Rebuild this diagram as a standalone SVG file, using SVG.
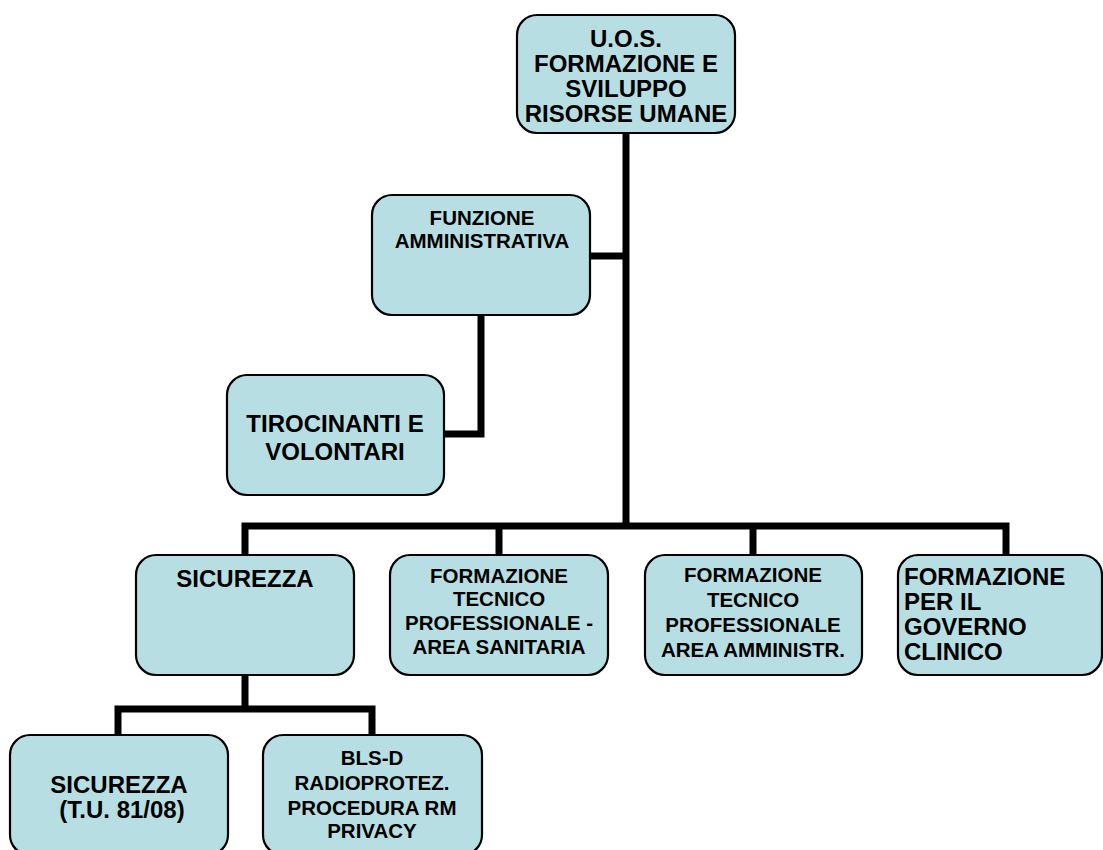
<svg xmlns="http://www.w3.org/2000/svg" width="1103" height="850" viewBox="0 0 1103 850">
<style>
.box{fill:#B7DEE2;stroke:#000;stroke-width:2.2}
.t{font-family:"Liberation Sans",Arial,sans-serif;font-weight:bold;fill:#000}
.big{font-size:24px}
.sm{font-size:20.5px}
.c{text-anchor:middle}
.conn{fill:none;stroke:#000;stroke-width:7;stroke-linejoin:miter;stroke-linecap:butt}
</style>
<rect width="1103" height="850" fill="#fff"/>
<g id="connectors">
<path class="conn" d="M626,133 V526"/>
<path class="conn" d="M590,256 H626"/>
<path class="conn" d="M481,315 V434 H444"/>
<path class="conn" d="M245,555 V526 H1006 V555"/>
<path class="conn" d="M499,526 V555"/>
<path class="conn" d="M753,526 V555"/>
<path class="conn" d="M245,675 V709"/>
<path class="conn" d="M118,735 V709 H372 V735"/>
</g>
<g id="n-uos">
<rect class="box" x="517" y="15" width="218" height="118" rx="20"/>
<text class="t big c" x="626" y="47">U.O.S.</text>
<text class="t big c" x="626" y="72">FORMAZIONE E</text>
<text class="t big c" x="626" y="97">SVILUPPO</text>
<text class="t big c" x="626" y="122">RISORSE UMANE</text>
</g>
<g id="n-funzione">
<rect class="box" x="372" y="195" width="218" height="120" rx="20"/>
<text class="t sm c" x="482" y="225">FUNZIONE</text>
<text class="t sm c" x="482" y="248">AMMINISTRATIVA</text>
</g>
<g id="n-tirocinanti">
<rect class="box" x="227" y="375" width="217" height="120" rx="20"/>
<text class="t big c" x="335" y="432">TIROCINANTI E</text>
<text class="t big c" x="335" y="460">VOLONTARI</text>
</g>
<g id="n-sicurezza">
<rect class="box" x="136" y="555" width="218" height="120" rx="20"/>
<text class="t big c" x="245" y="587">SICUREZZA</text>
</g>
<g id="n-sanitaria">
<rect class="box" x="390" y="555" width="218" height="120" rx="20"/>
<text class="t sm c" x="499" y="583">FORMAZIONE</text>
<text class="t sm c" x="499" y="606">TECNICO</text>
<text class="t sm c" x="499" y="630">PROFESSIONALE -</text>
<text class="t sm c" x="499" y="654">AREA SANITARIA</text>
</g>
<g id="n-amministr">
<rect class="box" x="645" y="555" width="217" height="120" rx="20"/>
<text class="t sm c" x="753" y="582">FORMAZIONE</text>
<text class="t sm c" x="753" y="607">TECNICO</text>
<text class="t sm c" x="753" y="632">PROFESSIONALE</text>
<text class="t sm c" x="753" y="657">AREA AMMINISTR.</text>
</g>
<g id="n-governo">
<rect class="box" x="898" y="555" width="204" height="120" rx="20"/>
<text class="t big" x="904" y="585">FORMAZIONE</text>
<text class="t big" x="904" y="610">PER IL</text>
<text class="t big" x="904" y="635">GOVERNO</text>
<text class="t big" x="904" y="660">CLINICO</text>
</g>
<g id="n-sicurezza-tu">
<rect class="box" x="10" y="735" width="218" height="120" rx="20"/>
<text class="t big c" x="119" y="793">SICUREZZA</text>
<text class="t big c" x="122" y="818">(T.U. 81/08)</text>
</g>
<g id="n-blsd">
<rect class="box" x="263" y="735" width="219" height="120" rx="20"/>
<text class="t sm c" x="372" y="765">BLS-D</text>
<text class="t sm c" x="372" y="790">RADIOPROTEZ.</text>
<text class="t sm c" x="372" y="815">PROCEDURA RM</text>
<text class="t sm c" x="372" y="838">PRIVACY</text>
</g>
</svg>
